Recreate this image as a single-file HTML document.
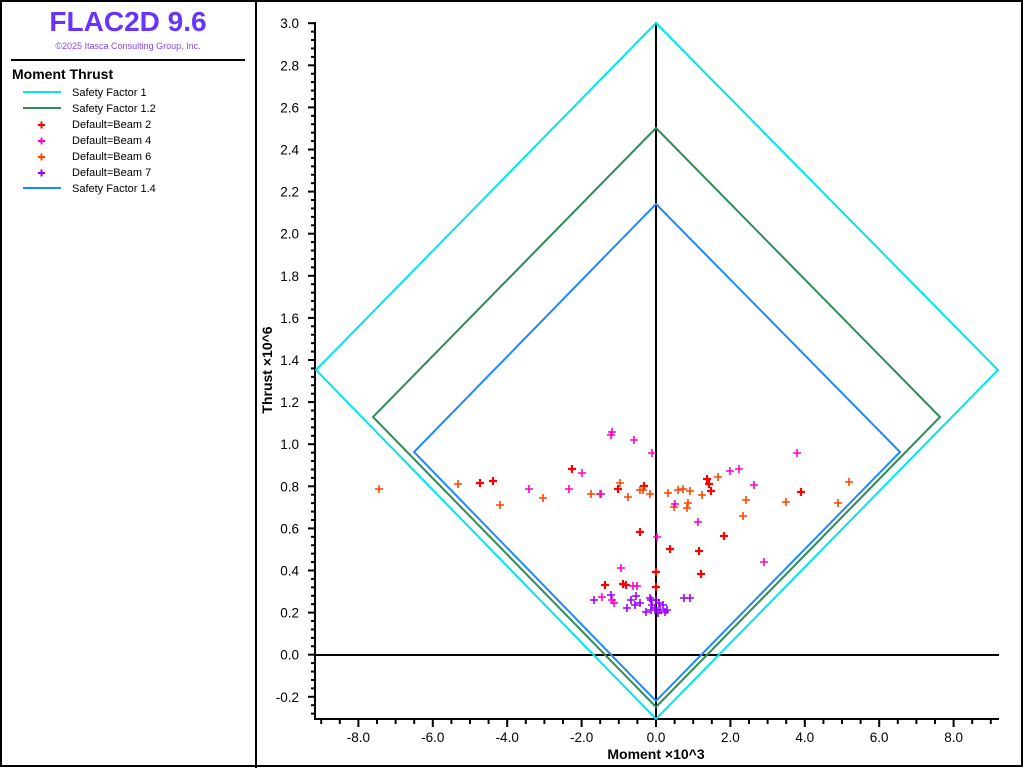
<!DOCTYPE html>
<html><head><meta charset="utf-8"><style>
html,body{margin:0;padding:0;background:#fff;}
svg{display:block;font-family:"Liberation Sans","DejaVu Sans",sans-serif;}
</style></head><body>
<svg width="1024" height="768" viewBox="0 0 1024 768" xmlns="http://www.w3.org/2000/svg">
<rect x="1" y="1" width="1021" height="765" fill="#fff" stroke="#000" stroke-width="2"/>
<line x1="256" y1="0" x2="256" y2="768" stroke="#000" stroke-width="2"/>
<text x="128" y="31" text-anchor="middle" font-size="28" font-weight="bold" fill="#6633ff">FLAC2D 9.6</text>
<text x="128" y="49" text-anchor="middle" font-size="9" fill="#8844ff">©2025 Itasca Consulting Group, Inc.</text>
<line x1="11" y1="60" x2="245" y2="60" stroke="#000" stroke-width="2"/>
<text x="12" y="79" font-size="14" font-weight="bold">Moment Thrust</text>
<g font-size="11">
<line x1="23" y1="92" x2="61" y2="92" stroke="#00e5ee" stroke-width="2"/><text x="72" y="96">Safety Factor 1</text>
<line x1="23" y1="108" x2="61" y2="108" stroke="#2e8b57" stroke-width="2"/><text x="72" y="112">Safety Factor 1.2</text>
<text x="72" y="128">Default=Beam 2</text>
<text x="72" y="144">Default=Beam 4</text>
<text x="72" y="160">Default=Beam 6</text>
<text x="72" y="176">Default=Beam 7</text>
<line x1="23" y1="188" x2="61" y2="188" stroke="#1e88ff" stroke-width="2"/><text x="72" y="192">Safety Factor 1.4</text>
</g>
<g stroke-width="2">
<path d="M38 125h7M41.5 121.5v7" stroke="#ff0000"/>
<path d="M38 141h7M41.5 137.5v7" stroke="#ff00cc"/>
<path d="M38 157h7M41.5 153.5v7" stroke="#ff4400"/>
<path d="M38 173h7M41.5 169.5v7" stroke="#9900ff"/>
</g>
<g stroke="#000" stroke-width="2">
<line x1="315" y1="22" x2="315" y2="719"/>
<line x1="314" y1="719" x2="999" y2="719"/>
<line x1="315" y1="655" x2="999" y2="655"/>
<line x1="656" y1="22" x2="656" y2="719"/>
</g>
<g id="yt" stroke="#000" stroke-width="2"></g>
<g id="xt" stroke="#000" stroke-width="2"></g>
<g id="yl" font-size="13.5" text-anchor="end"></g>
<g id="xl" font-size="13.5" text-anchor="middle"></g>
<text x="656" y="759" font-size="14" font-weight="bold" text-anchor="middle">Moment ×10^3</text>
<text transform="translate(272,370) rotate(-90)" font-size="14" font-weight="bold" text-anchor="middle">Thrust ×10^6</text>
<polygon points="656,23 998,370 656,719 316,370" fill="none" stroke="#00e5ee" stroke-width="2"/>
<polygon points="656,128 940,417 656,707 373,417 " fill="none" stroke="#2e8b57" stroke-width="2"/>
<polygon points="656,204 900,452 656,701 414,452" fill="none" stroke="#1e88ff" stroke-width="2"/>
<g id="pts"></g>
<script>
var ns="http://www.w3.org/2000/svg";
function el(p,t,a){var e=document.createElementNS(ns,t);for(var k in a)e.setAttribute(k,a[k]);document.getElementById(p).appendChild(e);return e;}
for(var k=-7;k<=75;k++){var v=k*0.04;var y=654.7-210.5*v;var maj=(k%5===0);
el("yt","line",{x1:maj?308:311,y1:y,x2:315,y2:y});
if(maj){var t=el("yl","text",{x:299,y:y+5});t.textContent=(k===0?0:v).toFixed(1);}}
for(var j=-18;j<=18;j++){var m=j*0.5;var x=656+37.2*m;if(x<316||x>998)continue;var maj=(j%4===0);
el("xt","line",{x1:x,y1:719,x2:x,y2:maj?727:724});
if(maj&&Math.abs(m)<=8){var t=el("xl","text",{x:x,y:742});t.textContent=(j===0?0:m).toFixed(1);}}
var P={"#ff0000":[[640,532],[707,479],[709,484],[711,491],[699,551],[724,536],[701,574],[656,572],[656,587],[605,585],[623,584],[626,585],[572,469],[801,492],[480,483],[493,481],[618,489],[670,549],[644,486]],
"#ff4400":[[379,489],[458,484],[500,505],[543,498],[591,494],[600,494],[620,483],[640,490],[643,490],[650,494],[674,507],[678,490],[683,489],[688,503],[690,491],[702,495],[718,477],[743,516],[746,500],[786,502],[838,503],[849,482],[668,493],[687,508],[628,497]],
"#ff00cc":[[612,432],[611,435],[634,440],[652,453],[582,473],[601,494],[569,489],[529,489],[657,537],[698,522],[730,471],[739,469],[754,485],[797,453],[764,562],[621,568],[637,586],[602,597],[612,600],[614,603],[633,586],[675,504]],
"#9900ff":[[594,600],[611,595],[627,608],[635,605],[640,603],[651,600],[651,610],[650,598],[655,608],[658,613],[660,610],[663,605],[665,612],[667,610],[684,598],[690,598],[646,612],[631,600],[656,600],[659,603],[636,596],[652,605]]};
for(var c in P)P[c].forEach(function(p){el("pts","path",{d:"M"+(p[0]-4)+" "+p[1]+"h8M"+p[0]+" "+(p[1]-4)+"v8",stroke:c,"stroke-width":(c=="#ff0000"?2.2:1.6)});});
</script>
</svg>
</body></html>
